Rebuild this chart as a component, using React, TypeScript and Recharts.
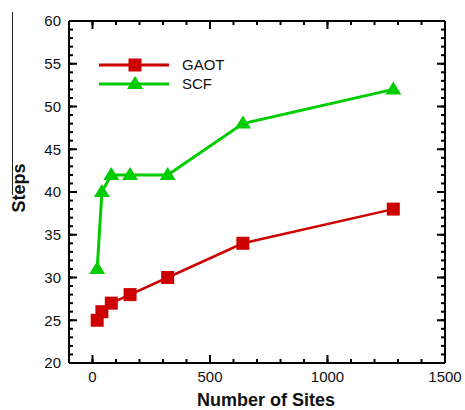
import { LineChart, Line, XAxis, YAxis } from 'recharts'

const SITES = [20, 40, 80, 160, 320, 640, 1280]
const GAOT = [25, 26, 27, 28, 30, 34, 38]
const SCF = [31, 40, 42, 42, 42, 48, 52]

const X_LABELS = [0, 500, 1000, 1500]
const Y_LABELS = [20, 25, 30, 35, 40, 45, 50, 55, 60]
const X_DOMAIN: [number, number] = [-100, 1500]
const Y_DOMAIN: [number, number] = [20, 60]

const RED = '#cc0000'
const GREEN = '#00cc00'
const FONT = '"Liberation Sans", Arial, Helvetica, sans-serif'

// minor ticks every 100 on x, every 1 on y
const X_TICKS: number[] = []
for (let v = 0; v <= 1500; v += 100) X_TICKS.push(v)
const Y_TICKS: number[] = []
for (let v = 20; v <= 60; v += 1) Y_TICKS.push(v)

const data = SITES.map((s, i) => ({ sites: s, gaot: GAOT[i], scf: SCF[i] }))

const MINOR = 4 // built-in inward tick (negative tickSize)
const MAJOR = 8 // majors get drawn full length by the tick components
const AXIS = { stroke: '#000', strokeWidth: 2 }
const TICKLINE = { stroke: '#000', strokeWidth: 2 }

// bottom: y = axis + 8 (tickSize -4, tickMargin 12)
function BottomTick({ x, y, payload }: any) {
  const v = payload.value
  if (!X_LABELS.includes(v)) return <g />
  return (
    <g>
      <rect x={x - 1} y={y - 8 - MAJOR} width={2} height={MAJOR} fill="#000" />
      <text x={x} y={y} dy="0.72em" textAnchor="middle" fontSize={15} fontFamily={FONT} fill="#111">
        {v}
      </text>
    </g>
  )
}

// top: y = axis + 4 (tickSize -4, tickMargin 0)
function TopTick({ x, y, payload }: any) {
  if (!X_LABELS.includes(payload.value)) return <g />
  return <rect x={x - 1} y={y - MINOR} width={2} height={MAJOR} fill="#000" />
}

// left: x = axis - 8 (tickSize -4, tickMargin 12)
function LeftTick({ x, y, payload }: any) {
  const v = payload.value
  if (!Y_LABELS.includes(v)) return <g />
  return (
    <g>
      <rect x={x + 8} y={y - 1} width={MAJOR} height={2} fill="#000" />
      <text x={x} y={y} dy="0.36em" textAnchor="end" fontSize={15} fontFamily={FONT} fill="#111">
        {v}
      </text>
    </g>
  )
}

// right: x = axis - 4 (tickSize -4, tickMargin 0)
function RightTick({ x, y, payload }: any) {
  if (!Y_LABELS.includes(payload.value)) return <g />
  return <rect x={x + MINOR - MAJOR} y={y - 1} width={MAJOR} height={2} fill="#000" />
}

function Square({ cx, cy, color }: any) {
  if (cx == null || cy == null) return null
  return <rect x={cx - 6.5} y={cy - 6.5} width={13} height={13} fill={color} />
}

function Triangle({ cx, cy, color }: any) {
  if (cx == null || cy == null) return null
  return <polygon points={`${cx},${cy - 8} ${cx + 8},${cy + 5} ${cx - 8},${cy + 5}`} fill={color} />
}

function LegendBox() {
  const rows = [
    { name: 'GAOT', color: RED, marker: 'square' },
    { name: 'SCF', color: GREEN, marker: 'triangle' },
  ]
  return (
    <svg width={140} height={40}>
      {rows.map((r, i) => {
        const cy = 9 + i * 19
        return (
          <g key={r.name}>
            <line x1={0} y1={cy} x2={70} y2={cy} stroke={r.color} strokeWidth={3} />
            {r.marker === 'square'
              ? <Square cx={36} cy={cy} color={r.color} />
              : <Triangle cx={36} cy={cy} color={r.color} />}
            <text x={83} y={cy} dy="0.36em" fontSize={15} fontFamily={FONT} fill="#111">
              {r.name}
            </text>
          </g>
        )
      })}
    </svg>
  )
}

export default function App() {
  return (
    <div style={{ position: 'fixed', left: 0, top: 0, width: 465, height: 410, background: '#fff' }}>
      <div style={{ position: 'absolute', left: 12, top: 12, width: 0, height: 183, borderLeft: '1px solid #222' }} />
      <LineChart width={465} height={410} data={data} margin={{ top: 20, right: 19, bottom: 0, left: 0 }}>
        <XAxis
          dataKey="sites"
          type="number"
          domain={X_DOMAIN}
          allowDataOverflow
          ticks={X_TICKS}
          interval={0}
          height={47}
          tickSize={-MINOR}
          tickMargin={12}
          tickLine={TICKLINE}
          tick={<BottomTick />}
          axisLine={AXIS}
          label={(p: any) => {
            const vb = p.viewBox
            return (
              <text x={vb.x + vb.width / 2 + 9} y={406} textAnchor="middle" fontSize={18} fontWeight="bold" fontFamily={FONT} fill="#111">
                Number of Sites
              </text>
            )
          }}
        />
        <XAxis
          xAxisId="top"
          orientation="top"
          dataKey="sites"
          type="number"
          domain={X_DOMAIN}
          allowDataOverflow
          ticks={X_TICKS}
          interval={0}
          height={1}
          tickSize={-MINOR}
          tickMargin={0}
          tickLine={TICKLINE}
          tick={<TopTick />}
          axisLine={AXIS}
        />
        <YAxis
          type="number"
          domain={Y_DOMAIN}
          allowDataOverflow
          ticks={Y_TICKS}
          interval={0}
          width={69}
          tickSize={-MINOR}
          tickMargin={12}
          tickLine={TICKLINE}
          tick={<LeftTick />}
          axisLine={AXIS}
          label={(p: any) => {
            const vb = p.viewBox
            const cy = vb.y + vb.height / 2 - 4
            return (
              <text x={25} y={cy} transform={`rotate(-90 25 ${cy})`} textAnchor="middle" fontSize={18} fontWeight="bold" fontFamily={FONT} fill="#111">
                Steps
              </text>
            )
          }}
        />
        <YAxis
          yAxisId="right"
          orientation="right"
          type="number"
          domain={Y_DOMAIN}
          allowDataOverflow
          ticks={Y_TICKS}
          interval={0}
          width={1}
          tickSize={-MINOR}
          tickMargin={0}
          tickLine={TICKLINE}
          tick={<RightTick />}
          axisLine={AXIS}
        />
        <Line
          type="linear"
          dataKey="gaot"
          name="GAOT"
          stroke={RED}
          strokeWidth={2.5}
          dot={(p: any) => <Square key={p.index} cx={p.cx} cy={p.cy} color={RED} />}
          isAnimationActive={false}
        />
        <Line
          type="linear"
          dataKey="scf"
          name="SCF"
          stroke={GREEN}
          strokeWidth={3}
          dot={(p: any) => <Triangle key={p.index} cx={p.cx} cy={p.cy} color={GREEN} />}
          isAnimationActive={false}
        />
      </LineChart>
      <div style={{ position: 'absolute', left: 99, top: 56, width: 140, height: 40 }}>
        <LegendBox />
      </div>
    </div>
  )
}
